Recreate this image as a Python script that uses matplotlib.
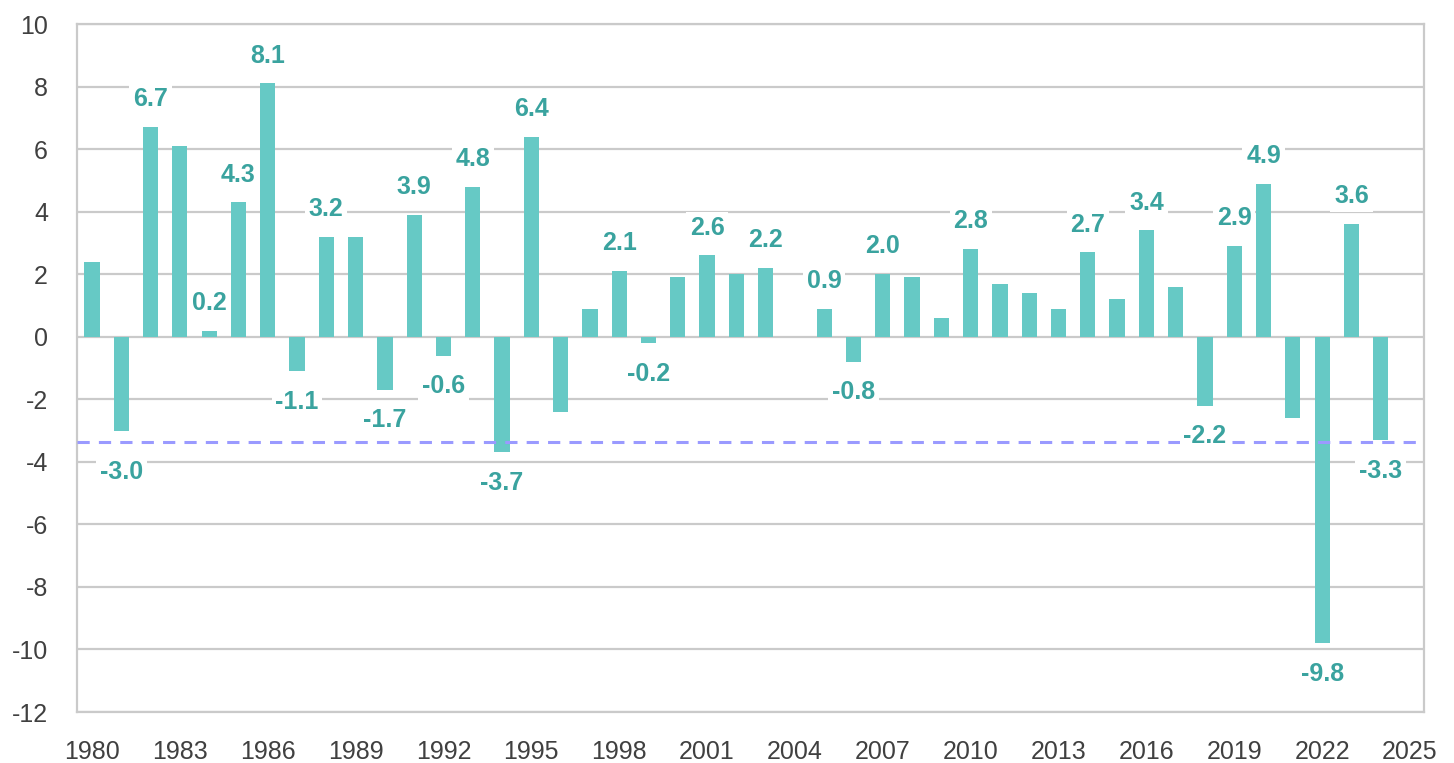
import numpy as np
import matplotlib.pyplot as plt

years = np.arange(1980, 2025)
values = [2.4, -3.0, 6.7, 6.1, 0.2, 4.3, 8.1, -1.1, 3.2, 3.2,
          -1.7, 3.9, -0.6, 4.8, -3.7, 6.4, -2.4, 0.9, 2.1, -0.2,
          1.9, 2.6, 2.0, 2.2, 0.0, 0.9, -0.8, 2.0, 1.9, 0.6,
          2.8, 1.7, 1.4, 0.9, 2.7, 1.2, 3.4, 1.6, -2.2, 2.9,
          4.9, -2.6, -9.8, 3.6, -3.3]
labeled_years = [1981, 1982, 1984, 1985, 1986, 1987, 1988, 1990, 1991, 1992,
                 1993, 1994, 1995, 1998, 1999, 2001, 2003, 2005, 2006, 2007,
                 2010, 2014, 2016, 2018, 2019, 2020, 2022, 2023, 2024]
threshold = -3.35
xtick_years = np.arange(1980, 2026, 3)
ytick_vals = np.arange(-12, 11, 2)

plt.rcParams['font.family'] = ['Liberation Sans', 'DejaVu Sans']
plt.rcParams['axes.unicode_minus'] = False

bar_col = '#66c9c5'
lab_col = '#3aa39f'
grid_col = '#cacaca'

fig = plt.figure(figsize=(14.54, 7.63), dpi=100)
ax = fig.add_axes([0.053, 0.0668, 0.9264, 0.9017])

ax.bar(years, values, width=0.52, color=bar_col, zorder=2)
ax.axhline(threshold, color='#9a9aff', lw=2.2, ls=(0, (4, 3)), zorder=3)

for yr, v in zip(years, values):
    if yr not in labeled_years:
        continue
    off = 20 if v >= 0 else -22
    if yr == 1981:
        off = -30  # pushed below the dashed line
    ax.annotate('%.1f' % v, (yr, v), xytext=(0, off), textcoords='offset points',
                ha='center', va='center', fontsize=18, fontweight='bold', color=lab_col,
                bbox=dict(boxstyle='square,pad=0.15', fc='white', ec='none'), zorder=4)

ax.set_xlim(1979.49, 2025.48)
ax.set_ylim(-12, 10)
ax.set_xticks(xtick_years)
ax.set_yticks(ytick_vals)
ax.tick_params(length=0, labelsize=18, labelcolor='#404040')
ax.tick_params(axis='y', pad=21)
ax.tick_params(axis='x', pad=20)
ax.grid(axis='y', color=grid_col, lw=1.6, zorder=0)
ax.set_axisbelow(True)
for s in ax.spines.values():
    s.set_color(grid_col)
    s.set_linewidth(1.6)

fig.savefig('out.png', dpi=100)
